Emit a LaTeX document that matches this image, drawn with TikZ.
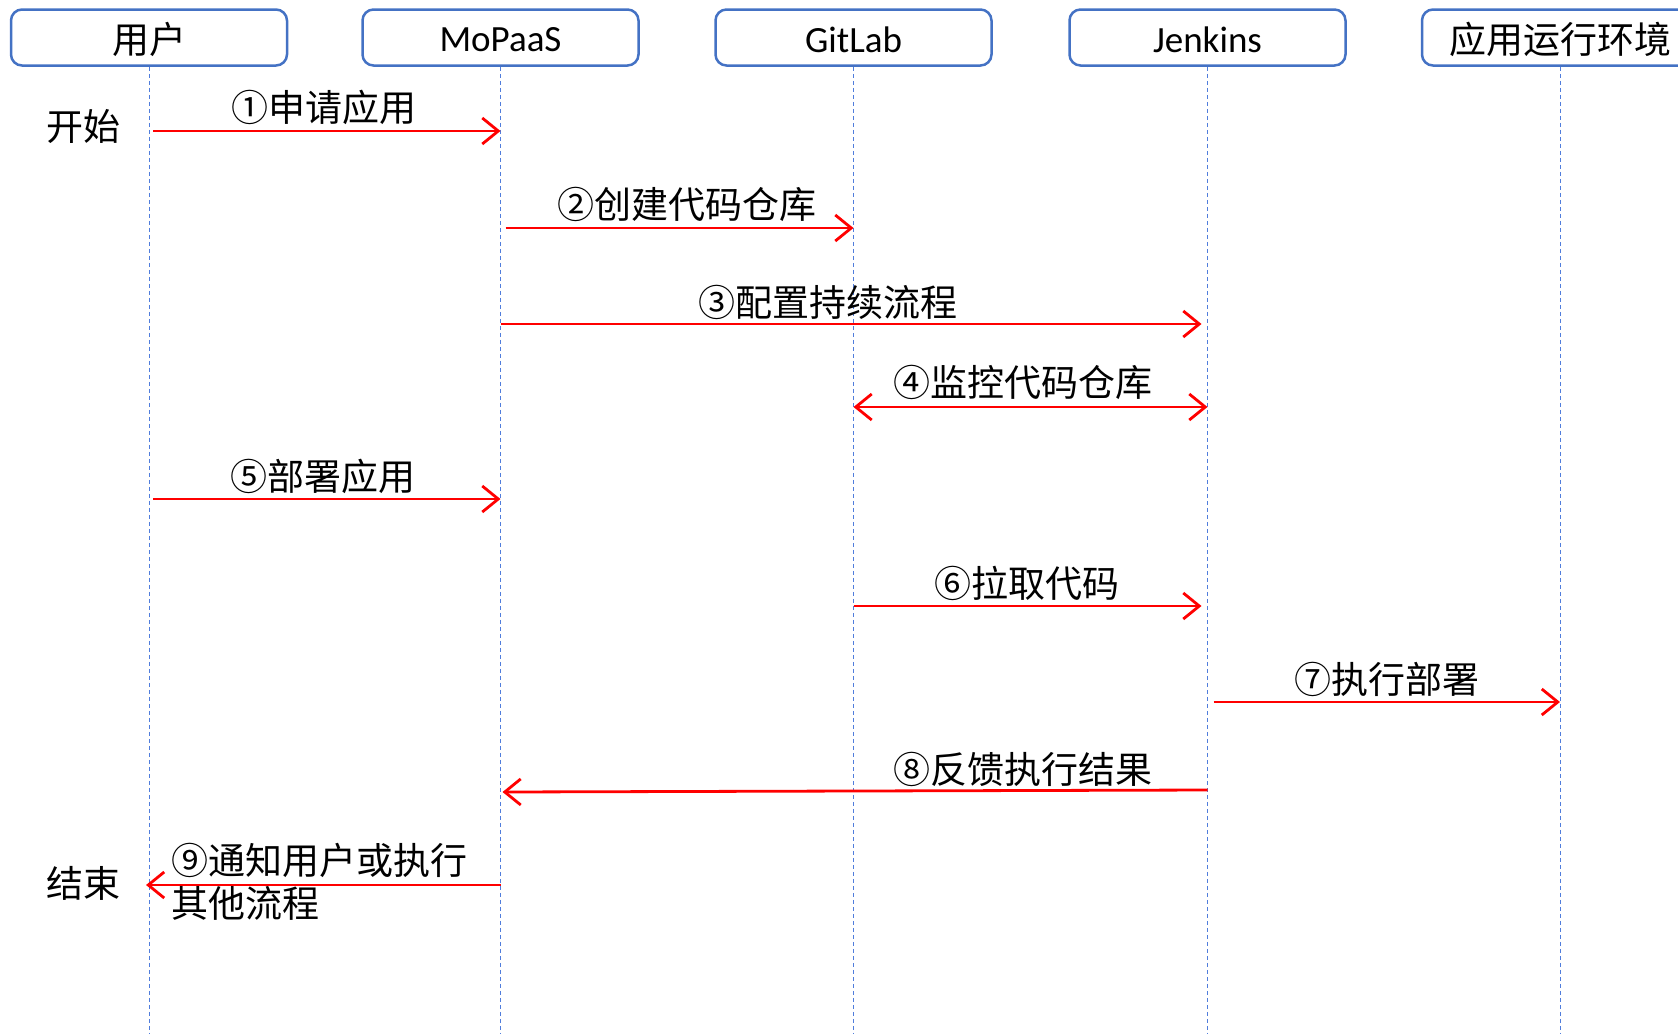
\documentclass[tikz,border=0pt]{standalone}
\usepackage{fontspec}
\setmainfont{Noto Sans CJK SC}
\newfontfamily\latfont{Carlito}
\usetikzlibrary{arrows.meta}
\definecolor{boxblue}{RGB}{68,114,196}
\definecolor{lineblue}{RGB}{80,125,220}
\begin{document}
\begin{tikzpicture}[x=1pt,y=-1pt,
  actor/.style={draw=boxblue,line width=2.5pt,rounded corners=11pt,minimum width=276pt,minimum height=56pt,inner sep=0pt},
  atext/.style={inner sep=0pt,font=\fontsize{37}{42}\selectfont},
  life/.style={draw=lineblue,line width=1pt,dash pattern=on 4pt off 3pt},
  msg/.style={draw=red,line width=2.8pt,-{Straight Barb[length=16pt,width=26pt,line width=2.8pt]}},
  msgb/.style={draw=red,line width=2.8pt,{Straight Barb[length=16pt,width=26pt,line width=2.8pt]}-{Straight Barb[length=16pt,width=26pt,line width=2.8pt]}},
  lbl/.style={inner sep=0pt,font=\fontsize{37}{43}\selectfont}]
\useasboundingbox (0,0) rectangle (1678,1034);
\node[actor] (u) at (149,37.5) {};
\node[actor] (m) at (500.5,37.5) {};
\node[actor] (g) at (853.5,37.5) {};
\node[actor] (j) at (1207.5,37.5) {};
\node[actor] (r) at (1560,37.5) {};
\node[atext] (ut) at ([yshift=-2pt]u.center) {用户};
\node[atext] (mt) at ([yshift=-2pt]m.center) {\latfont MoPaaS};
\node[atext] (gt) at ([yshift=-2pt]g.center) {\latfont GitLab};
\node[atext] (jt) at ([yshift=-2pt]j.center) {\latfont Jenkins};
\node[atext] (rt) at ([yshift=-2pt]r.center) {应用运行环境};
\coordinate (ub) at (149,1034);
\coordinate (mb) at (500.5,1034);
\coordinate (gb) at (853.5,1034);
\coordinate (jb) at (1207.5,1034);
\coordinate (rb) at (1560,1034);
\draw[life] (u.south) -- (ub);
\draw[life] (m.south) -- (mb);
\draw[life] (g.south) -- (gb);
\draw[life] (j.south) -- (jb);
\draw[life] (r.south) -- (rb);
% messages
\draw[msg] ([xshift=4pt]u.south |- 0,131) -- (m.south |- 0,131);
\draw[msg] ([xshift=5pt]m.south |- 0,228) -- (g.south |- 0,228);
\draw[msg] (m.south |- 0,324) -- ([xshift=-6pt]j.south |- 0,324);
\draw[msgb] (g.south |- 0,407) -- (j.south |- 0,407);
\draw[msg] ([xshift=4pt]u.south |- 0,499) -- (m.south |- 0,499);
\draw[msg] (g.south |- 0,606) -- ([xshift=-6pt]j.south |- 0,606);
\draw[msg] ([xshift=6pt]j.south |- 0,702) -- (r.south |- 0,702);
\draw[msg] (j.south |- 0,790) -- ([xshift=2pt]m.south |- 0,792);
\draw[msg] (m.south |- 0,885) -- ([xshift=-3pt]u.south |- 0,885);
% labels
\node[lbl] (l1) at (324,107) {①申请应用};
\node[lbl] (l2) at (687,204) {②创建代码仓库};
\node[lbl] (l3) at (828,302) {③配置持续流程};
\node[lbl] (l4) at (1023,382) {④监控代码仓库};
\node[lbl] (l5) at (323,476) {⑤部署应用};
\node[lbl] (l6) at (1027,583) {⑥拉取代码};
\node[lbl] (l7) at (1387,679) {⑦执行部署};
\node[lbl] (l8) at (1023,769) {⑧反馈执行结果};
\node[lbl,anchor=west,align=left] (l9) at (171,882) {⑨通知用户或执行\\其他流程};
\node[lbl] (st) at (83,126) {开始};
\node[lbl] (en) at (83,883) {结束};
\end{tikzpicture}
\end{document}
